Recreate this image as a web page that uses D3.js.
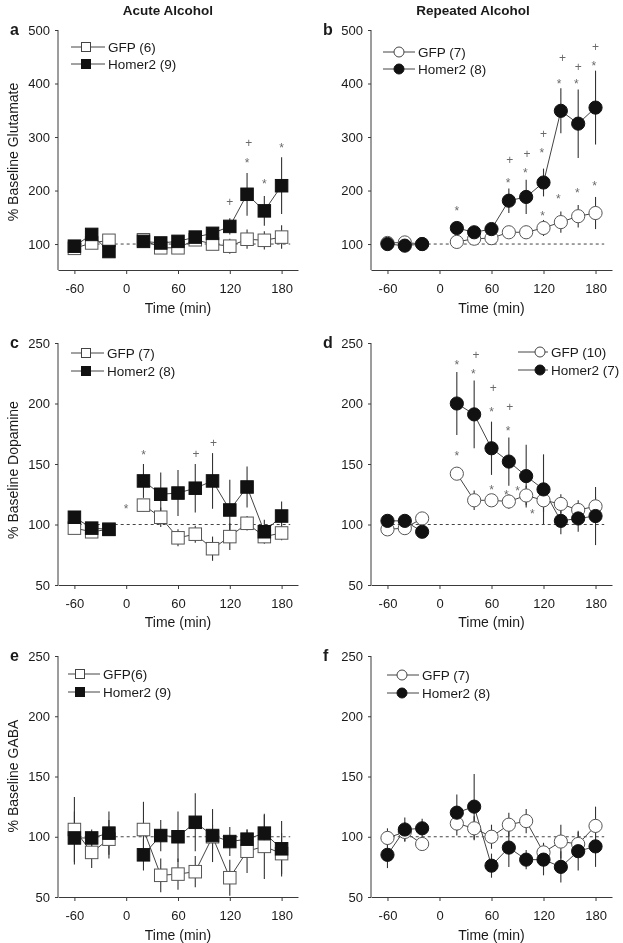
<!DOCTYPE html>
<html><head><meta charset="utf-8">
<script src="https://cdn.jsdelivr.net/npm/d3@7"></script>
<style>
body{margin:0;background:#fff;}
svg{display:block;font-family:"Liberation Sans",Arial,sans-serif;filter:grayscale(100%);}
</style></head>
<body>
<svg id="chart" width="623" height="943"></svg>
<script>
// ---------- data ----------
const times = [-60,-40,-20,20,40,60,80,100,120,140,160,180];
const xTicks = [-60,0,60,120,180];
const gluTicks = [100,200,300,400,500];
const smallTicks = [50,100,150,200,250];
const refLineX = [-62,190];
const refLineY = 100;

const gluAcuteGFP      = [92,102,107,108,93,93,108,100,96,109,107,113];
const gluAcuteGFPErr   = [5,5,6,8,6,5,6,8,14,18,17,22];
const gluAcuteHomer    = [96,118,86,105,102,105,113,120,133,193,162,209];
const gluAcuteHomerErr = [6,8,8,10,6,8,8,10,15,40,28,53];

const gluRepGFP        = [102,103,100,104,110,111,122,122,130,141,152,158];
const gluRepGFPErr     = [4,5,4,8,8,8,10,12,15,20,21,30];
const gluRepHomer      = [100,97,100,130,122,128,181,188,215,349,325,355];
const gluRepHomerErr   = [4,5,4,10,8,8,23,32,26,42,64,69];

const dopAcuteGFP      = [97,94,96,116,106,89,92,80,90,101,90,93];
const dopAcuteGFPErr   = [4,4,4,5,8,7,7,10,11,6,5,6];
const dopAcuteHomer    = [106,97,96,136,125,126,130,136,112,131,94,107];
const dopAcuteHomerErr = [5,5,4,14,18,19,20,23,25,17,10,12];

const dopRepGFP        = [96,97,105,142,120,120,119,124,120,117,112,115];
const dopRepGFPErr     = [4,5,5,5,8,5,6,8,10,8,8,8];
const dopRepHomer      = [103,103,94,200,191,163,152,140,129,103,105,107];
const dopRepHomerErr   = [4,4,4,26,28,22,20,26,29,11,11,24];

const gabaAcuteGFP      = [106,87,98,106,68,69,71,100,66,88,92,86];
const gabaAcuteGFPErr   = [27,13,16,23,14,13,13,10,15,18,27,17];
const gabaAcuteHomer    = [99,99,103,85,101,100,112,101,96,98,103,90];
const gabaAcuteHomerErr = [22,7,18,13,13,21,24,22,12,8,15,23];

const gabaRepGFP        = [99,104,94,111,107,100,110,113,87,96,94,109];
const gabaRepGFPErr     = [8,8,5,10,10,10,10,10,8,14,11,16];
const gabaRepHomer      = [85,106,107,120,125,76,91,81,81,75,88,92];
const gabaRepHomerErr   = [11,10,8,15,27,10,16,8,13,13,16,17];

const gluAcuteMarks = [
  {t:120,v:178,s:"+"},{t:140,v:256,s:"*"},{t:142,v:289,s:"+"},
  {t:160,v:218,s:"*"},{t:180,v:284,s:"*"}];
const gluRepMarks = [
  {t:20,v:167,s:"*"},
  {t:79,v:220,s:"*"},{t:81,v:257,s:"+"},
  {t:99,v:239,s:"*"},{t:101,v:269,s:"+"},
  {t:118,v:276,s:"*"},{t:120,v:306,s:"+"},{t:119,v:158,s:"*"},
  {t:138,v:404,s:"*"},{t:142,v:447,s:"+"},{t:137,v:189,s:"*"},
  {t:158,v:405,s:"*"},{t:160,v:431,s:"+"},{t:159,v:200,s:"*"},
  {t:178,v:438,s:"*"},{t:180,v:468,s:"+"},{t:179,v:213,s:"*"}];
const dopAcuteMarks = [
  {t:20,v:160,s:"*"},{t:0,v:115,s:"*"},{t:81,v:158,s:"+"},{t:101,v:167,s:"+"}];
const dopRepMarks = [
  {t:20,v:234,s:"*"},{t:20,v:159,s:"*"},
  {t:42,v:240,s:"+"},{t:39,v:227,s:"*"},
  {t:62,v:213,s:"+"},{t:60,v:195,s:"*"},{t:60,v:131,s:"*"},
  {t:81,v:197,s:"+"},{t:79,v:180,s:"*"},{t:77,v:127,s:"*"},
  {t:90,v:130,s:"*"},{t:107,v:111,s:"*"}];
const gabaAcuteMarks = [];
const gabaRepMarks = [];

const columnTitles = ["Acute Alcohol","Repeated Alcohol"];

// ---------- layout ----------
const panels = [
  {letter:"a", gfp:gluAcuteGFP, gfpErr:gluAcuteGFPErr, hom:gluAcuteHomer, homErr:gluAcuteHomerErr,
   marks:gluAcuteMarks, shape:"square", xr:[58,298], yd:[51.5,500], yr:[270,30], ticks:gluTicks,
   ylabel:"% Baseline Glutamate", ylc:152, leg:{x:71,cx:86,tx:108,y:[47,64]}, legText:["GFP (6)","Homer2 (9)"],
   xlabY:313, letterY:35},
  {letter:"b", gfp:gluRepGFP, gfpErr:gluRepGFPErr, hom:gluRepHomer, homErr:gluRepHomerErr,
   marks:gluRepMarks, shape:"circle", xr:[371,612], yd:[51.5,500], yr:[270,30], ticks:gluTicks,
   leg:{x:383,cx:399,tx:418,y:[52,69]}, legText:["GFP (7)","Homer2 (8)"], xlabY:313, letterY:35},
  {letter:"c", gfp:dopAcuteGFP, gfpErr:dopAcuteGFPErr, hom:dopAcuteHomer, homErr:dopAcuteHomerErr,
   marks:dopAcuteMarks, shape:"square", xr:[58,298], yd:[50,250], yr:[585,343], ticks:smallTicks,
   ylabel:"% Baseline Dopamine", ylc:470, leg:{x:71,cx:86,tx:107,y:[353,371]}, legText:["GFP (7)","Homer2 (8)"],
   xlabY:627, letterY:348},
  {letter:"d", gfp:dopRepGFP, gfpErr:dopRepGFPErr, hom:dopRepHomer, homErr:dopRepHomerErr,
   marks:dopRepMarks, shape:"circle", xr:[371,612], yd:[50,250], yr:[585,343], ticks:smallTicks,
   leg:{x:518,cx:540,tx:551,y:[352,370]}, legText:["GFP (10)","Homer2 (7)"], xlabY:627, letterY:348},
  {letter:"e", gfp:gabaAcuteGFP, gfpErr:gabaAcuteGFPErr, hom:gabaAcuteHomer, homErr:gabaAcuteHomerErr,
   marks:gabaAcuteMarks, shape:"square", xr:[58,298], yd:[50,250], yr:[897,656], ticks:smallTicks,
   ylabel:"% Baseline GABA", ylc:776, leg:{x:68,cx:80,tx:103,y:[674,692]}, legText:["GFP(6)","Homer2 (9)"],
   xlabY:940, letterY:661},
  {letter:"f", gfp:gabaRepGFP, gfpErr:gabaRepGFPErr, hom:gabaRepHomer, homErr:gabaRepHomerErr,
   marks:gabaRepMarks, shape:"circle", xr:[371,612], yd:[50,250], yr:[897,656], ticks:smallTicks,
   leg:{x:387,cx:402,tx:422,y:[675,693]}, legText:["GFP (7)","Homer2 (8)"], xlabY:940, letterY:661}
];

const svg = d3.select("#chart");
const FS = 13, FL = 14, FLEG = 13.5;
const ink = "#1a1a1a", lineCol = "#3a3a3a", markCol = "#6a6a6a";

svg.append("text").attr("x",168).attr("y",15).attr("text-anchor","middle")
  .attr("font-weight","bold").attr("font-size",13.5).attr("fill",ink).text(columnTitles[0]);
svg.append("text").attr("x",473).attr("y",15).attr("text-anchor","middle")
  .attr("font-weight","bold").attr("font-size",13.5).attr("fill",ink).text(columnTitles[1]);

panels.forEach(p => {
  const g = svg.append("g");
  const x = d3.scaleLinear().domain([-79,199]).range(p.xr);
  const y = d3.scaleLinear().domain(p.yd).range(p.yr);
  const y0 = p.yr[0];

  // axes
  const xa = g.append("g").attr("transform",`translate(0,${y0})`)
    .call(d3.axisBottom(x).tickValues(xTicks).tickSize(4).tickSizeOuter(0).tickPadding(10).tickFormat(d3.format("d")));
  const ya = g.append("g").attr("transform",`translate(${p.xr[0]},0)`)
    .call(d3.axisLeft(y).tickValues(p.ticks).tickSize(3).tickSizeOuter(0).tickPadding(5));
  ya.select(".domain").attr("d",`M0,${y0}V${y(p.ticks[p.ticks.length-1])}`);
  [xa,ya].forEach(a=>{
    a.selectAll("path,line").attr("stroke",lineCol).attr("stroke-width",1);
    a.selectAll("text").attr("font-size",FS).attr("fill",ink).attr("font-family","Liberation Sans, Arial, sans-serif");
  });
  xa.selectAll("text").text(d=>d<0?"-"+Math.abs(d):d);

  // labels
  g.append("text").attr("x",(p.xr[0]+p.xr[1])/2).attr("y",p.xlabY).attr("text-anchor","middle")
    .attr("font-size",FL).attr("fill",ink).text("Time (min)");
  if (p.ylabel) {
    g.append("text").attr("transform",`translate(18,${p.ylc}) rotate(-90)`).attr("text-anchor","middle")
      .attr("font-size",FL).attr("fill",ink).text(p.ylabel);
  }
  g.append("text").attr("x",p.xr[0]-48).attr("y",p.letterY).attr("font-weight","bold")
    .attr("font-size",16).attr("fill",ink).text(p.letter);

  // reference dashed line
  g.append("line").attr("x1",x(refLineX[0])).attr("x2",x(refLineX[1]))
    .attr("y1",y(refLineY)).attr("y2",y(refLineY))
    .attr("stroke","#444").attr("stroke-width",1).attr("stroke-dasharray","3,3");

  const series = [
    {vals:p.gfp, err:p.gfpErr, open:true},
    {vals:p.hom, err:p.homErr, open:false}
  ];
  const pts = s => times.map((t,i)=>({t, v:s.vals[i], e:s.err[i]}));

  // error bars (all first)
  series.forEach(s=>{
    g.append("g").selectAll("line").data(pts(s)).join("line")
      .attr("x1",d=>x(d.t)).attr("x2",d=>x(d.t))
      .attr("y1",d=>y(d.v-d.e)).attr("y2",d=>y(d.v+d.e))
      .attr("stroke","#333").attr("stroke-width",1.1);
  });
  // connecting lines (pre and post segments)
  const lineGen = d3.line().x(d=>x(d.t)).y(d=>y(d.v));
  series.forEach(s=>{
    const ps = pts(s);
    [ps.filter(d=>d.t<0), ps.filter(d=>d.t>0)].forEach(seg=>{
      g.append("path").attr("d",lineGen(seg)).attr("fill","none")
        .attr("stroke","#444").attr("stroke-width",1);
    });
  });
  // markers
  series.forEach(s=>{
    const mg = g.append("g");
    const fill = s.open ? "#fff" : "#111";
    const stroke = s.open ? "#555" : "#111";
    if (p.shape==="square") {
      const sz = 12.5;
      mg.selectAll("rect").data(pts(s)).join("rect")
        .attr("x",d=>x(d.t)-sz/2).attr("y",d=>y(d.v)-sz/2).attr("width",sz).attr("height",sz)
        .attr("fill",fill).attr("stroke",stroke).attr("stroke-width",1);
    } else {
      mg.selectAll("circle").data(pts(s)).join("circle")
        .attr("cx",d=>x(d.t)).attr("cy",d=>y(d.v)).attr("r",6.6)
        .attr("fill",fill).attr("stroke",stroke).attr("stroke-width",1);
    }
  });

  // significance marks
  g.append("g").selectAll("text").data(p.marks).join("text")
    .attr("x",d=>x(d.t)).attr("y",d=>y(d.v)+(d.s==="*"?0.57:0.33)*12)
    .attr("text-anchor","middle").attr("font-size",12).attr("fill",markCol).text(d=>d.s);

  // legend
  const L = p.leg;
  [0,1].forEach(i=>{
    const ly = L.y[i];
    g.append("line").attr("x1",L.x).attr("x2",L.tx-3).attr("y1",ly).attr("y2",ly)
      .attr("stroke","#444").attr("stroke-width",1);
    const fill = i===0 ? "#fff" : "#111";
    const stroke = i===0 ? "#444" : "#111";
    if (p.shape==="square") {
      g.append("rect").attr("x",L.cx-4.5).attr("y",ly-4.5).attr("width",9).attr("height",9)
        .attr("fill",fill).attr("stroke",stroke);
    } else {
      g.append("circle").attr("cx",L.cx).attr("cy",ly).attr("r",5).attr("fill",fill).attr("stroke",stroke);
    }
    g.append("text").attr("x",L.tx).attr("y",ly).attr("dy","0.36em").attr("font-size",FLEG)
      .attr("fill",ink).text(p.legText[i]);
  });
});
</script>
</body></html>
